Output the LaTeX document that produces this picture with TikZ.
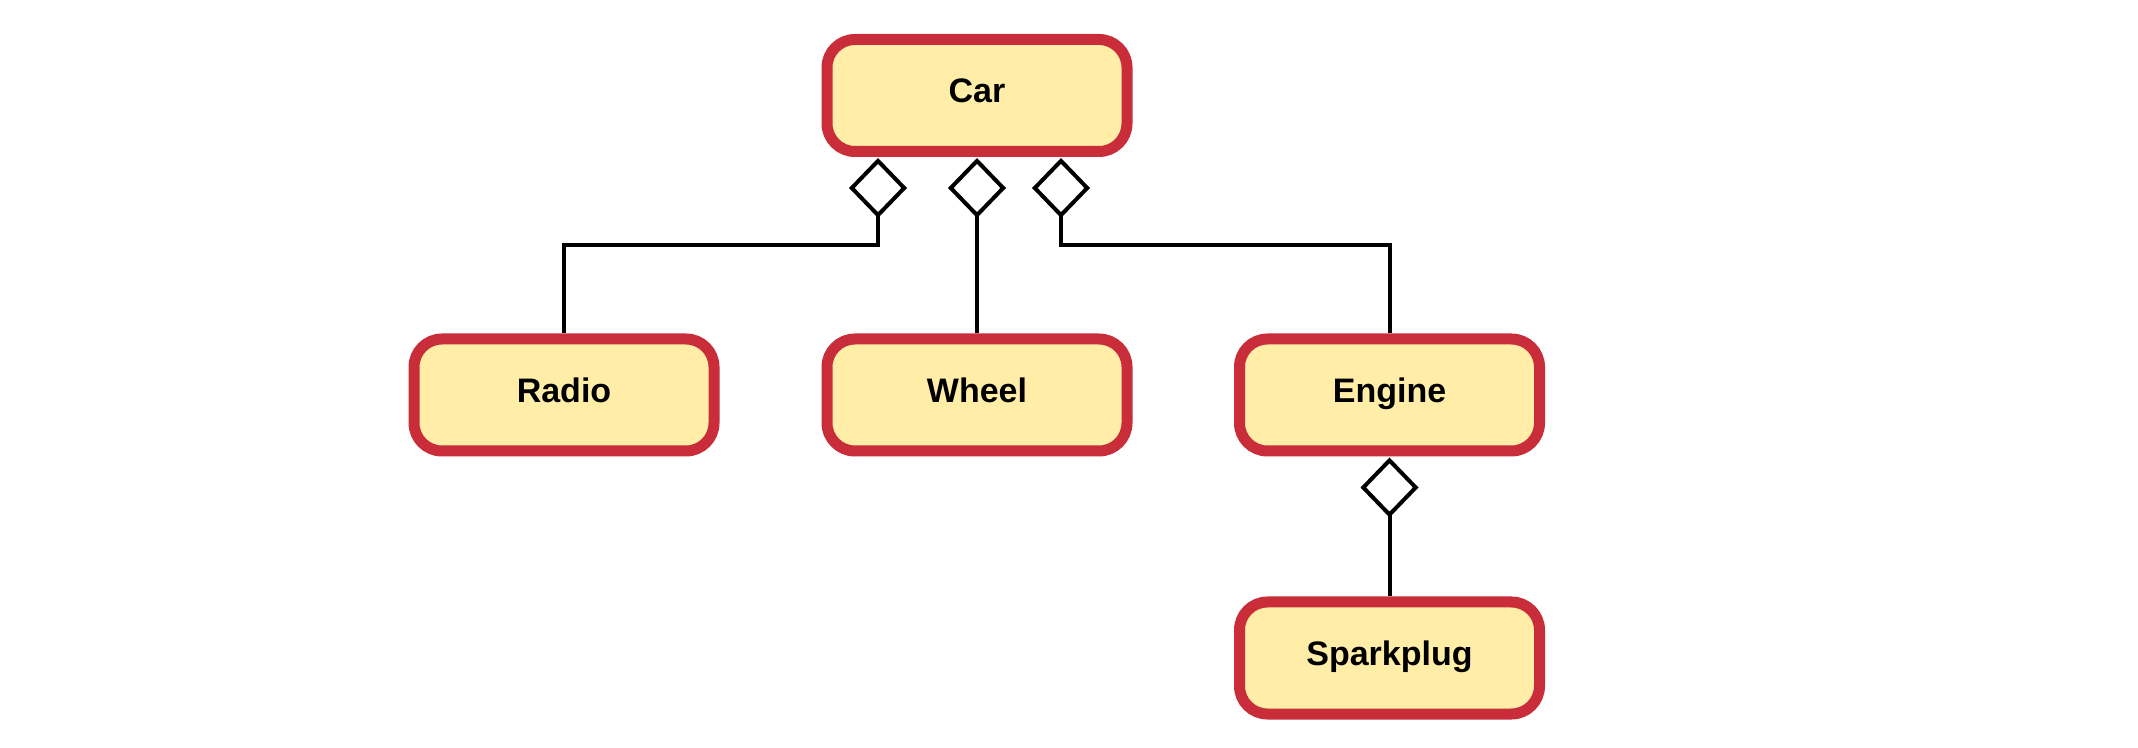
\documentclass[tikz,border=0pt]{standalone}
\usepackage{fontspec}
\setmainfont{Liberation Sans}
\usetikzlibrary{arrows.meta}
\definecolor{boxred}{HTML}{C92D39}
\definecolor{boxfill}{HTML}{FFEDA8}
\tikzset{
  classbox/.style={draw=boxred,fill=boxfill,line width=5.5pt,rounded corners=14pt,
    minimum width=150pt,minimum height=56pt,text height=12pt,text depth=4.5pt,
    font=\fontsize{17}{20}\selectfont\bfseries},
  agg/.style={{Diamond[open,length=30pt,width=29pt]}-,line width=2pt,shorten <=0.5pt}
}
\begin{document}
\begin{tikzpicture}[x=0.5pt,y=-0.5pt]
  \useasboundingbox (0,0) rectangle (2138,748); % page
  \node [classbox] (car) at (977,95.5) {Car}; % whole
  \node [classbox] (radio) at (564,395) {Radio}; % parts
  \node [classbox] (wheel) at (977,395) {Wheel};
  \node [classbox] (engine) at (1389.5,395) {Engine};
  \node [classbox] (spark) at (1389.5,658) {Sparkplug}; % part of engine
  \draw [agg] ([xshift=-49.5pt]car.south) -- ++(0,88) -| (radio.north); % car has radio
  \draw [agg] (car.south) -- (wheel.north); % car has wheel
  \draw [agg] ([xshift=42pt]car.south) -- ++(0,88) -| (engine.north); % car has engine
  \draw [agg] (engine.south) -- (spark.north); % engine has sparkplug
\end{tikzpicture}
\end{document}
